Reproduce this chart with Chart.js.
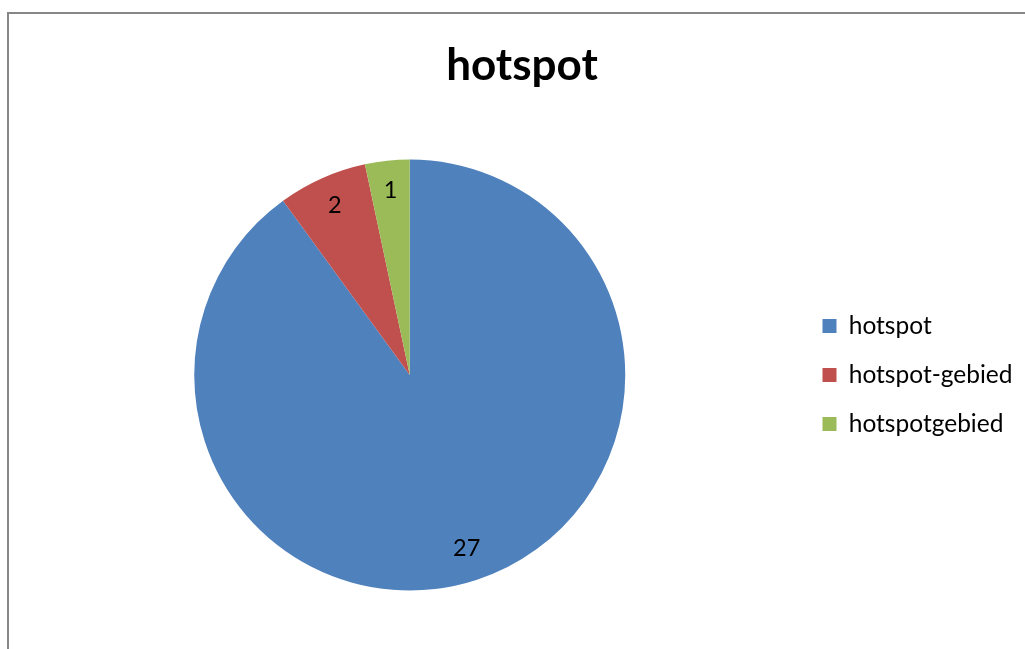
<!DOCTYPE html>
<html>
<head>
<meta charset="utf-8">
<script src="https://cdn.jsdelivr.net/npm/chart.js@4.4.1/dist/chart.umd.min.js"></script>
<style>
  html, body { margin: 0; padding: 0; background: #ffffff; overflow: hidden; }
  #wrap { position: relative; width: 1025px; height: 649px; overflow: hidden; }
  #frame {
    position: absolute; left: 7px; top: 12px; width: 1100px; height: 700px;
    border-left: 2px solid #878787; border-top: 2px solid #878787;
    box-sizing: border-box; pointer-events: none;
  }
  canvas { position: absolute; left: 0; top: 0; }
</style>
</head>
<body>
<div id="wrap">
  <canvas id="c" width="1030" height="649"></canvas>
  <div id="frame"></div>
</div>
<script>
const chartTitle = 'hotspot';
const categories = ['hotspot', 'hotspot-gebied', 'hotspotgebied'];
const counts = [27, 2, 1];
const sliceColors = ['#4F81BD', '#C0504D', '#9BBB59'];

const FONT = 'Lato, "Open Sans", sans-serif';

// Writes each slice's value inside the slice, near the rim
const sliceValueLabels = {
  id: 'sliceValueLabels',
  afterDatasetsDraw(chart) {
    const ctx = chart.ctx;
    const meta = chart.getDatasetMeta(0);
    const values = chart.data.datasets[0].data;
    ctx.save();
    ctx.font = '23.5px ' + FONT;
    ctx.fillStyle = '#000000';
    ctx.textAlign = 'center';
    ctx.textBaseline = 'middle';
    meta.data.forEach((arc, i) => {
      const p = arc.getProps(['x', 'y', 'startAngle', 'endAngle', 'outerRadius'], true);
      const mid = (p.startAngle + p.endAngle) / 2;
      const r = p.outerRadius * 0.855;
      ctx.fillText(String(values[i]), p.x + Math.cos(mid) * r, p.y + Math.sin(mid) * r - 1.5);
    });
    ctx.restore();
  }
};

new Chart(document.getElementById('c'), {
  type: 'pie',
  data: {
    labels: categories,
    datasets: [{
      data: counts,
      backgroundColor: sliceColors,
      borderWidth: 0
    }]
  },
  options: {
    responsive: false,
    animation: false,
    events: [],
    layout: { padding: { left: 21.5, right: 7.5, top: 0, bottom: 58.5 } },
    plugins: {
      title: {
        display: true,
        text: chartTitle,
        color: '#000000',
        font: { family: FONT, size: 44, weight: 'bold', lineHeight: 1.2 },
        padding: { top: 39.5, bottom: 67.2 }
      },
      legend: {
        position: 'right',
        fullSize: false,
        maxWidth: 226,
        labels: {
          color: '#000000',
          font: { family: FONT, size: 24.5 },
          boxWidth: 14,
          boxHeight: 14,
          padding: 24.5
        }
      },
      tooltip: { enabled: false }
    }
  },
  plugins: [sliceValueLabels]
});
</script>
</body>
</html>
